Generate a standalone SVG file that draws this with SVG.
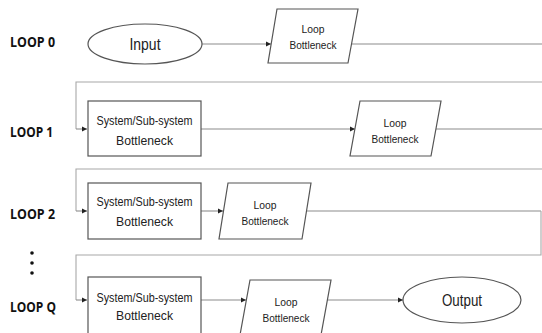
<svg xmlns="http://www.w3.org/2000/svg" width="542" height="333" viewBox="0 0 542 333">
<style>
.bg{fill:#fff}
.lbl{font-family:"Open Sans","Noto Sans",sans-serif;font-weight:bold;font-size:15px;fill:#111}
.node{fill:#fff;stroke:#555;stroke-width:1.2}
.t{font-family:"Liberation Sans",Arial,sans-serif;fill:#222;text-anchor:middle}
.big{font-size:17px}
.mid{font-size:13.5px}
.sm{font-size:11.5px}
.flow{fill:none;stroke:#8c8c8c;stroke-width:1.1}
.ret{fill:none;stroke:#a8a8a8;stroke-width:1.1}
</style>
<defs>
<marker id="ah" markerWidth="6" markerHeight="6" refX="5" refY="3" orient="auto" markerUnits="userSpaceOnUse">
<path d="M0,0.5 L5,3 L0,5.5 Z" fill="#222"/>
</marker>
</defs>
<rect class="bg" x="0" y="0" width="542" height="333"/>

<g id="labels">
<text class="lbl" x="10" y="47" textLength="45" lengthAdjust="spacingAndGlyphs">LOOP 0</text>
<text class="lbl" x="10" y="137" textLength="43" lengthAdjust="spacingAndGlyphs">LOOP 1</text>
<text class="lbl" x="10" y="219" textLength="45" lengthAdjust="spacingAndGlyphs">LOOP 2</text>
<text class="lbl" x="10" y="312" textLength="46" lengthAdjust="spacingAndGlyphs">LOOP Q</text>
<circle cx="32" cy="253" r="1.8" fill="#111"/>
<circle cx="32" cy="263" r="1.8" fill="#111"/>
<circle cx="32" cy="273" r="1.8" fill="#111"/>
</g>

<g id="connectors">
<path class="flow" d="M202,44 H271" marker-end="url(#ah)"/>
<path class="flow" d="M352,44 H560"/>
<path class="ret" d="M560,44 V82 H76 V129"/>
<path class="flow" d="M76,129 H87" marker-end="url(#ah)"/>
<path class="flow" d="M201,129 H355" marker-end="url(#ah)"/>
<path class="flow" d="M436,129 H560"/>
<path class="ret" d="M560,129 V169 H76 V211"/>
<path class="flow" d="M76,211 H87" marker-end="url(#ah)"/>
<path class="flow" d="M201,211 H223" marker-end="url(#ah)"/>
<path class="flow" d="M306,211 H541"/>
<path class="ret" d="M541,211 V255 H76 V300"/>
<path class="flow" d="M76,300 H87" marker-end="url(#ah)"/>
<path class="flow" d="M201,300 H246" marker-end="url(#ah)"/>
<path class="flow" d="M327,300 H403" marker-end="url(#ah)"/>
</g>

<g id="input">
<ellipse class="node" cx="145" cy="44" rx="57" ry="20"/>
<text class="t big" x="145" y="50" textLength="31" lengthAdjust="spacingAndGlyphs">Input</text>
</g>

<g id="loop0-bottleneck">
<polygon class="node" points="277,9 358,9 348,63 268,63"/>
<text class="t sm" x="313" y="33" textLength="23" lengthAdjust="spacingAndGlyphs">Loop</text>
<text class="t sm" x="313" y="49" textLength="47" lengthAdjust="spacingAndGlyphs">Bottleneck</text>
</g>

<g id="loop1-system">
<rect class="node" x="88" y="101" width="113" height="55"/>
<text class="t mid" x="144.5" y="124.5" textLength="96" lengthAdjust="spacingAndGlyphs">System/Sub-system</text>
<text class="t mid" x="144.5" y="144.5" textLength="57" lengthAdjust="spacingAndGlyphs">Bottleneck</text>
</g>

<g id="loop1-bottleneck">
<polygon class="node" points="360,101 441,101 431,156 350,156"/>
<text class="t sm" x="395" y="127" textLength="23" lengthAdjust="spacingAndGlyphs">Loop</text>
<text class="t sm" x="395" y="143" textLength="47" lengthAdjust="spacingAndGlyphs">Bottleneck</text>
</g>

<g id="loop2-system">
<rect class="node" x="88" y="183" width="113" height="56"/>
<text class="t mid" x="144.5" y="206" textLength="96" lengthAdjust="spacingAndGlyphs">System/Sub-system</text>
<text class="t mid" x="144.5" y="226" textLength="57" lengthAdjust="spacingAndGlyphs">Bottleneck</text>
</g>

<g id="loop2-bottleneck">
<polygon class="node" points="228,183 311,183 302,239 219,239"/>
<text class="t sm" x="265" y="209" textLength="23" lengthAdjust="spacingAndGlyphs">Loop</text>
<text class="t sm" x="265" y="225" textLength="47" lengthAdjust="spacingAndGlyphs">Bottleneck</text>
</g>

<g id="loopq-system">
<rect class="node" x="88" y="277" width="113" height="60"/>
<text class="t mid" x="144.5" y="301.5" textLength="96" lengthAdjust="spacingAndGlyphs">System/Sub-system</text>
<text class="t mid" x="144.5" y="320" textLength="57" lengthAdjust="spacingAndGlyphs">Bottleneck</text>
</g>

<g id="loopq-bottleneck">
<polygon class="node" points="250,280 331,280 321,335 240,335"/>
<text class="t sm" x="286" y="306" textLength="23" lengthAdjust="spacingAndGlyphs">Loop</text>
<text class="t sm" x="286" y="322" textLength="47" lengthAdjust="spacingAndGlyphs">Bottleneck</text>
</g>

<g id="output">
<ellipse class="node" cx="462" cy="300" rx="59" ry="23"/>
<text class="t big" x="462" y="306" textLength="40" lengthAdjust="spacingAndGlyphs">Output</text>
</g>
</svg>
